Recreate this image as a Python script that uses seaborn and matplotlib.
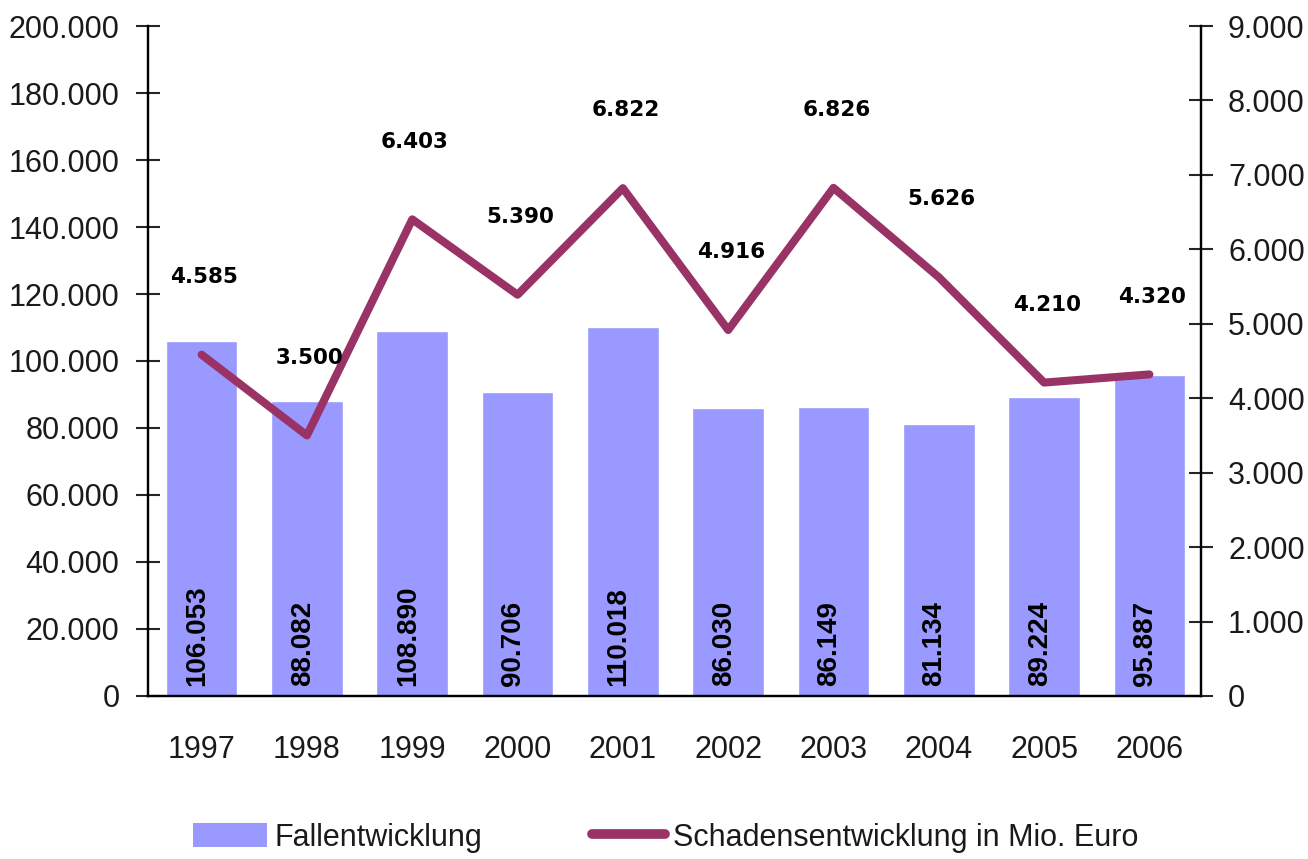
import numpy as np
import matplotlib
matplotlib.use("Agg")
import matplotlib.pyplot as plt
import seaborn as sns
from matplotlib.ticker import FuncFormatter, MultipleLocator
from matplotlib.patches import Patch
from matplotlib.lines import Line2D

years = ["1997", "1998", "1999", "2000", "2001", "2002", "2003", "2004", "2005", "2006"]
cases = [106053, 88082, 108890, 90706, 110018, 86030, 86149, 81134, 89224, 95887]
damage = [4585, 3500, 6403, 5390, 6822, 4916, 6826, 5626, 4210, 4320]
bar_label = "Fallentwicklung"
line_label = "Schadensentwicklung in Mio. Euro"

BAR_COLOR = "#9999FF"
LINE_COLOR = "#993366"

sns.set_style("white")
SANS = ["Liberation Sans", "DejaVu Sans"]
plt.rcParams["font.family"] = SANS


def de(v, pos=None):
    return f"{int(round(v)):,}".replace(",", ".")


fig = plt.figure(figsize=(13.08, 8.59), dpi=100)
ax = fig.add_axes([0.1131, 0.1898, 0.9182 - 0.1131, 0.9697 - 0.1898])

sns.barplot(x=years, y=cases, color=BAR_COLOR, saturation=1, width=0.68, ax=ax)
ax.set_xlim(-0.51, len(years) - 0.51)
ax.set_ylim(0, 200000)
ax.yaxis.set_major_locator(MultipleLocator(20000))
ax.yaxis.set_major_formatter(FuncFormatter(de))
ax.set_xlabel("")
ax.set_ylabel("")

ax2 = ax.twinx()
sns.lineplot(x=np.arange(len(years)), y=damage, color=LINE_COLOR, linewidth=5.8, ax=ax2)
ax2.lines[0].set_solid_capstyle("round")
ax2.set_ylim(0, 9000)
ax2.yaxis.set_major_locator(MultipleLocator(1000))
ax2.yaxis.set_major_formatter(FuncFormatter(de))
ax2.set_ylabel("")
ax2.set_xlim(-0.51, len(years) - 0.51)

for a in (ax, ax2):
    a.spines["top"].set_visible(False)
    for s in ("left", "right", "bottom"):
        a.spines[s].set_linewidth(1.6)
        a.spines[s].set_color("black")

TXT = "#1a1a1a"
ax.tick_params(axis="y", direction="inout", length=17, width=1.5, labelsize=22,
               pad=12, left=True, labelcolor=TXT)
ax.tick_params(axis="x", length=0, labelsize=22, pad=28, labelcolor=TXT)
ax2.tick_params(axis="y", direction="inout", length=17, width=1.5, labelsize=22,
                pad=11, right=True, labelcolor=TXT)

# bar value labels
for i, v in enumerate(cases):
    ax.annotate(de(v), xy=(i, 0), xytext=(-3, 7), textcoords="offset points",
                rotation=90, ha="center", va="bottom", fontsize=20,
                fontweight="bold", color="black", family=SANS)

# line value labels
for i, v in enumerate(damage):
    ax2.annotate(de(v), xy=(i, v), xytext=(2, 56), textcoords="offset points",
                 ha="center", va="center", fontsize=15.5, fontweight="bold",
                 color="black", family=["DejaVu Sans"])

handles = [Patch(facecolor=BAR_COLOR, edgecolor="none", label=bar_label),
           Line2D([0], [0], color=LINE_COLOR, linewidth=7, solid_capstyle="round",
                  label=line_label)]
fig.legend(handles=handles, loc="center", bbox_to_anchor=(0.509, 0.025), ncol=2,
           frameon=False, fontsize=22, labelcolor=TXT, handlelength=2.4,
           handleheight=0.85, handletextpad=0.25, columnspacing=3.6)

fig.savefig("out.png", dpi=100)
